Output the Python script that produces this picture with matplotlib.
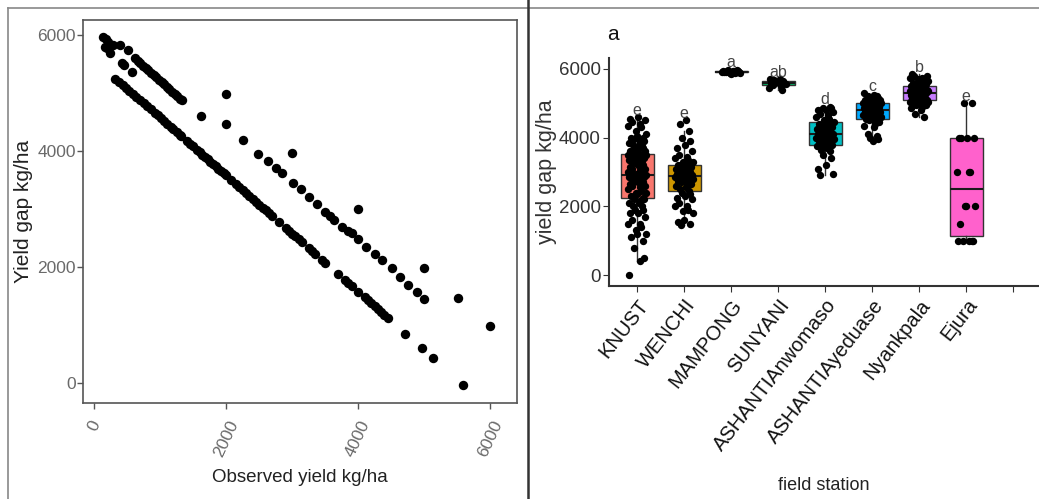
import matplotlib.pyplot as plt
from matplotlib.lines import Line2D

plt.rcParams['font.family'] = ['Liberation Sans', 'DejaVu Sans']

# observed yield vs yield gap (kg/ha)
observed = [136, 180, 212, 160, 187, 238, 250, 288, 389, 516, 414, 450, 566,
            617, 660, 700, 740, 780, 820, 860, 900, 940, 980, 1020, 1060, 1100,
            1140, 1180, 1220, 1260, 1300, 1324,
            1617, 1996, 1996, 2254, 2487, 2628, 2755, 2851, 2997, 3007, 3134,
            3261, 3371, 3498, 3573, 3639, 3760, 3841, 3902, 3993, 4003, 4119,
            4256, 4357, 4508, 4635, 4761, 4887, 4998, 5004, 5509, 6000,
            320, 380, 430, 480, 530, 590, 640, 700, 750, 800, 860, 920, 960,
            1010, 1060, 1110, 1160, 1200, 1250, 1300, 1320, 1400, 1450, 1500,
            1560, 1600, 1640, 1680, 1720, 1760, 1800, 1840, 1880, 1920, 1960,
            2000, 2080, 2150, 2200, 2250, 2300, 2350, 2400, 2450, 2500, 2560,
            2600, 2650, 2700, 2800, 2900, 2950, 3000, 3050, 3100, 3150, 3250,
            3300, 3350, 3450, 3500, 3700, 3800, 3850, 3900, 4000, 4100, 4150,
            4200, 4250, 4300, 4350, 4400, 4450,
            4711, 4963, 5140, 5595]
gap = [5971, 5930, 5885, 5800, 5770, 5690, 5820, 5830, 5830, 5740, 5510, 5480, 5370,
       5598, 5554, 5514, 5473, 5433, 5392, 5351, 5310, 5270, 5229, 5189, 5148, 5107,
       5067, 5026, 4985, 4945, 4904, 4880,
       4605, 4984, 4467, 4191, 3950, 3835, 3703, 3617, 3973, 3456, 3342,
       3204, 3089, 2957, 2882, 2813, 2699, 2624, 2584, 2480, 2997, 2343,
       2228, 2124, 1981, 1826, 1694, 1579, 1981, 1453, 1476, 993,
       5240, 5190, 5140, 5095, 5040, 4985, 4935, 4880, 4830, 4780, 4720, 4660, 4620,
       4570, 4520, 4470, 4420, 4380, 4330, 4280, 4260, 4180, 4130, 4080,
       4020, 3980, 3940, 3900, 3860, 3820, 3780, 3740, 3700, 3660, 3620,
       3580, 3500, 3430, 3380, 3330, 3280, 3230, 3180, 3130, 3080, 3020,
       2980, 2930, 2880, 2780, 2680, 2630, 2580, 2530, 2480, 2430, 2330,
       2280, 2230, 2130, 2080, 1880, 1780, 1730, 1680, 1580, 1480, 1430,
       1380, 1330, 1280, 1230, 1180, 1130,
       844, 603, 431, -29]

stations = ['KNUST', 'WENCHI', 'MAMPONG', 'SUNYANI', 'ASHANTIAnwomaso',
            'ASHANTIAyeduase', 'Nyankpala', 'Ejura']
letters = ['e', 'e', 'a', 'ab', 'd', 'c', 'b', 'e']
colors = ['#F8766D', '#CD9600', '#7CAE00', '#00BE67', '#00BFC4', '#00A9FF',
          '#C77CFF', '#FF61CC']

knust = [0, 400, 500, 800, 1000, 1100, 1200, 1200, 1300, 1400, 1500, 1500, 1600,
         1700, 1800, 1800, 1900, 1900, 2000, 2000, 2100, 2100, 2150, 2200, 2200,
         2250, 2300, 2350, 2400, 2400, 2450, 2500, 2550, 2600, 2600, 2650, 2700,
         2700, 2750, 2750, 2800, 2800, 2850, 2850, 2850, 2900, 2900, 2900, 2900, 2900,
         2950, 3000, 3000, 3050, 3100, 3100, 3150, 3200, 3200, 3250, 3250, 3300,
         3300, 3350, 3350, 3400, 3400, 3400, 3450, 3450, 3500, 3500, 3500, 3500, 3500,
         3550, 3600, 3600, 3650, 3700, 3700, 3750, 3800, 3800, 3850, 3900, 3900,
         3950, 4000, 4000, 4050, 4100, 4200, 4300, 4350, 4400, 4450, 4500, 4550, 4600]
wenchi = [1450, 1500, 1550, 1600, 1800, 1850, 1900, 2000, 2000, 2100, 2200, 2250,
          2300, 2350, 2400, 2450, 2500, 2550, 2600, 2600, 2650, 2700, 2700, 2750,
          2750, 2800, 2800, 2850, 2850, 2850, 2900, 2900, 2950, 2950, 3000, 3000,
          3050, 3050, 3100, 3100, 3150, 3150, 3200, 3200, 3200, 3250, 3300, 3300,
          3350, 3400, 3450, 3500, 3600, 3700, 3800, 3900, 4000, 4200, 4400, 4500]
mampong = [5850, 5870, 5880, 5890, 5900, 5900, 5900, 5910, 5910, 5920, 5920, 5920,
           5930, 5930, 5940, 5940, 5950, 5950, 5960, 5980]
sunyani = [5400, 5450, 5500, 5520, 5550, 5580, 5600, 5600, 5620, 5650, 5680, 5700, 5700]
anwomaso = [2900, 2950, 3100, 3200, 3400, 3500, 3600, 3650, 3700, 3750, 3750, 3800,
            3800, 3850, 3900, 3900, 3950, 3950, 4000, 4000, 4050, 4050, 4100, 4100, 4100,
            4150, 4150, 4200, 4200, 4250, 4250, 4300, 4300, 4350, 4400, 4400, 4450,
            4450, 4500, 4550, 4600, 4650, 4700, 4750, 4800, 4800, 4850, 4850, 4900]
ayeduase = [3900, 3950, 4000, 4050, 4100, 4300, 4350, 4400, 4450, 4500, 4500, 4550,
            4550, 4600, 4600, 4650, 4650, 4700, 4700, 4750, 4750, 4750, 4800, 4800, 4800,
            4850, 4850, 4850, 4900, 4900, 4900, 4950, 4950, 4950, 5000, 5000, 5000,
            5000, 5050, 5050, 5100, 5100, 5100, 5150, 5150, 5200, 5200, 5250, 5300]
nyankpala = [4600, 4700, 4800, 4850, 4900, 4950, 4950, 5000, 5000, 5000, 5050, 5050,
             5050, 5050, 5050, 5100, 5100, 5150, 5150, 5150, 5200, 5200, 5200, 5250,
             5250, 5250, 5300, 5300, 5300, 5300, 5300, 5350, 5350, 5350, 5350, 5400,
             5400, 5400, 5400, 5450, 5450, 5450, 5500, 5500, 5500, 5500, 5550, 5550,
             5550, 5600, 5600, 5650, 5650, 5700, 5700, 5750, 5750, 5800, 5800, 5850]
ejura = [1000, 1000, 1000, 1000, 1000, 1500, 2000, 2000, 2000, 3000, 3000, 3000,
         4000, 4000, 4000, 4000, 5000, 5000]
groups = [knust, wenchi, mampong, sunyani, anwomaso, ayeduase, nyankpala, ejura]

# fixed horizontal jitter pattern for the overlaid points
jitter = [-0.18, 0.05, 0.15, -0.07, 0.12, -0.14, 0.0, 0.19, -0.03, 0.09,
          -0.2, 0.07, -0.11, 0.17, -0.16, 0.02, 0.13, -0.05, 0.1, -0.09, 0.04]

W, H = 1039, 499
fig = plt.figure(figsize=(W / 100, H / 100), dpi=100)

# ---- left: scatter ----
ax1 = fig.add_axes([83 / W, 1 - 403 / H, (517 - 83) / W, (403 - 20) / H])
ax1.scatter(observed, gap, s=46, color='black', linewidths=0)
ax1.set_xlim(-171, 6409)
ax1.set_ylim(-339, 6258)
ax1.set_xticks([0, 2000, 4000, 6000])
ax1.set_yticks([0, 2000, 4000, 6000])
for sp in ax1.spines.values():
    sp.set_color('#555555')
    sp.set_linewidth(1.2)
ax1.tick_params(color='#555555', length=4, width=1, labelcolor='#6a6a6a', labelsize=12.5)
ax1.tick_params(axis='y', pad=1)
ax1.tick_params(axis='x', pad=7)
for lab in ax1.get_xticklabels():
    lab.set_rotation(65)
    lab.set_ha('center')
    lab.set_va('top')
ax1.set_xlabel('Observed yield kg/ha', fontsize=13.5, color='#222222', labelpad=7)
ax1.set_ylabel('Yield gap kg/ha', fontsize=15, color='#222222', labelpad=3)

# ---- right: box plots by station ----
ax2 = fig.add_axes([609 / W, 1 - 286 / H, (W - 609) / W, (286 - 58) / H])
pos = list(range(1, len(stations) + 1))
bp = ax2.boxplot(groups, positions=pos, widths=0.7, patch_artist=True,
                 showfliers=False, showcaps=False,
                 medianprops=dict(color='#1a1a1a', linewidth=1.5),
                 boxprops=dict(edgecolor='#333333', linewidth=1),
                 whiskerprops=dict(color='#333333', linewidth=1))
for patch, c in zip(bp['boxes'], colors):
    patch.set_facecolor(c)
for i, vals in enumerate(groups):
    xs = [pos[i] + jitter[(k + 3 * i) % len(jitter)] for k in range(len(vals))]
    ax2.scatter(xs, vals, s=28, color='black', linewidths=0, zorder=3)
    ax2.text(pos[i], max(vals) + 200, letters[i], ha='center', va='center',
             fontsize=11.5, color='#444444', zorder=4)

ax2.set_xlim(0.4, 9.55)
ax2.set_ylim(-320, 6320)
ax2.set_xticks(pos + [9])
ax2.set_xticklabels(stations + [''], rotation=52, ha='right', va='top',
                    rotation_mode='anchor', fontsize=14.5, color='#111111')
ax2.set_yticks([0, 2000, 4000, 6000])
ax2.tick_params(axis='y', labelsize=13.5, labelcolor='#333333', length=4,
                color='#333333', pad=2)
ax2.tick_params(axis='x', length=4, color='#333333', pad=3)
ax2.spines['top'].set_visible(False)
ax2.spines['right'].set_visible(False)
for s in ('left', 'bottom'):
    ax2.spines[s].set_color('#333333')
    ax2.spines[s].set_linewidth(1.5)
ax2.set_xlabel('field station', fontsize=13, color='#222222', labelpad=16)
ax2.set_ylabel('yield gap kg/ha', fontsize=15.5, color='#333333', labelpad=1)
fig.text(613 / W, 1 - 35 / H, 'a', fontsize=15, color='#111111', ha='center', va='center')

# panel frame lines
fig.add_artist(Line2D([8 / W, 8 / W], [0, 1 - 8 / H], color='#888888', lw=1.2))
fig.add_artist(Line2D([8 / W, 1], [1 - 8 / H, 1 - 8 / H], color='#888888', lw=1.2))
fig.add_artist(Line2D([528 / W, 528 / W], [0, 1], color='#333333', lw=1.8))

fig.savefig('out.png', dpi=100)
